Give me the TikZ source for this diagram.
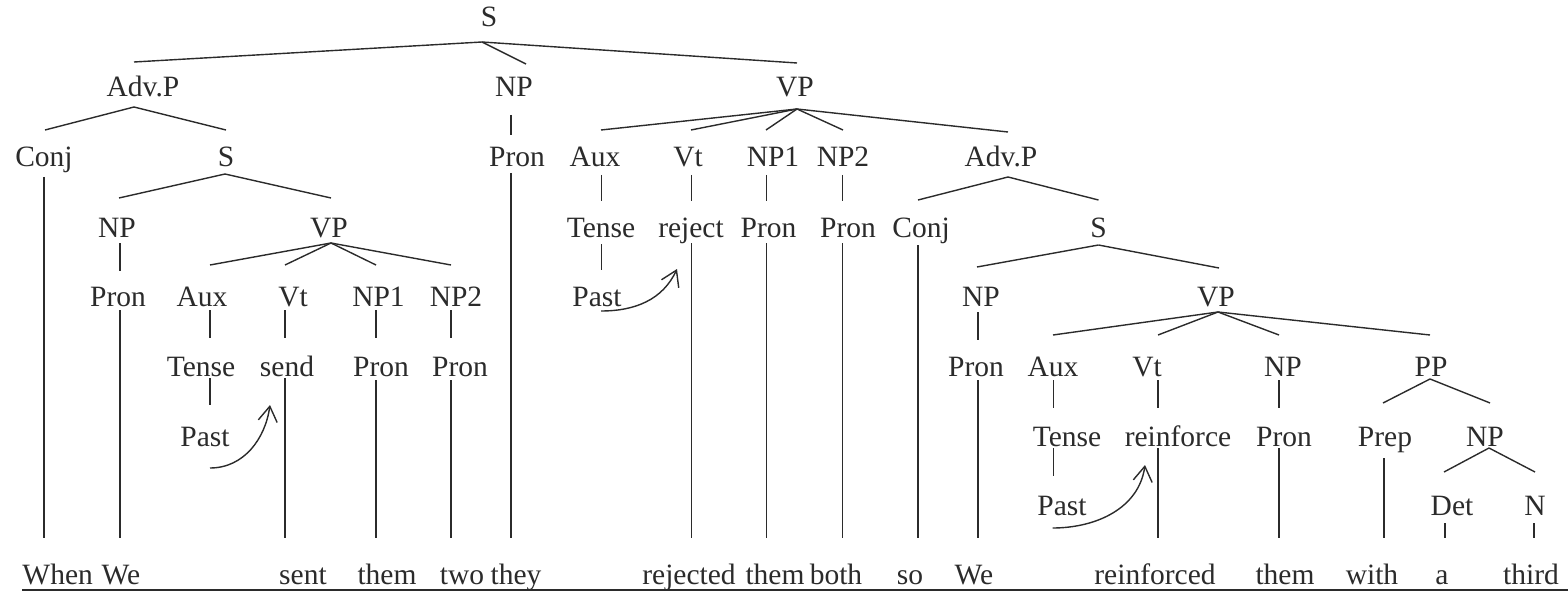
\documentclass[tikz,border=0pt]{standalone}
\usepackage{fontspec}
\setmainfont{Liberation Serif}
\usetikzlibrary{arrows.meta}
\definecolor{ink}{HTML}{2B2B2B}
\tikzset{
  lbl/.style={font=\fontsize{29.5}{30}\selectfont, inner sep=0pt, anchor=base, text=ink},
  edge/.style={draw=ink, line width=1.4pt},
  pointer/.style={edge, -{Straight Barb[length=15pt,width=19pt]}},
}
\begin{document}
\begin{tikzpicture}[x=1pt,y=-1pt]
\useasboundingbox (0,0) rectangle (1568,596);

% ---- labels, placed on their baselines ----
\node[lbl] (S0) at (489,27) {S};
% row 1
\node[lbl] (AdvP1) at (143,97) {Adv.P};
\node[lbl] (NP1) at (514,97) {NP};
\node[lbl] (VP1) at (795,97) {VP};
% row 2
\node[lbl] (Conj1) at (44,167) {Conj};
\node[lbl] (S2) at (226,167) {S};
\node[lbl] (Pron1) at (517,167) {Pron};
\node[lbl] (Aux1) at (595,167) {Aux};
\node[lbl] (Vt1) at (688,167) {Vt};
\node[lbl] (NPa1) at (773,167) {NP1};
\node[lbl] (NPa2) at (843,167) {NP2};
\node[lbl] (AdvP2) at (1001,167) {Adv.P};
% row 3
\node[lbl] (NP3) at (117,237) {NP};
\node[lbl] (VP3) at (329,237) {VP};
\node[lbl] (Tense1) at (601,237) {Tense};
\node[lbl] (Reject) at (691,237) {reject};
\node[lbl] (Pron2) at (768.5,237) {Pron};
\node[lbl] (Pron3) at (848,237) {Pron};
\node[lbl] (Conj2) at (921,237) {Conj};
\node[lbl] (S3) at (1098.5,237) {S};
% row 4
\node[lbl] (Pron4) at (118,306) {Pron};
\node[lbl] (Aux2) at (202,306) {Aux};
\node[lbl] (Vt2) at (293,306) {Vt};
\node[lbl] (NPb1) at (378.5,306) {NP1};
\node[lbl] (NPb2) at (456,306) {NP2};
\node[lbl] (Past1) at (597,306) {Past};
\node[lbl] (NP4) at (981,306) {NP};
\node[lbl] (VP4) at (1216,306) {VP};
% row 5
\node[lbl] (Tense2) at (201,376) {Tense};
\node[lbl] (Send) at (287,376) {send};
\node[lbl] (Pron5) at (381,376) {Pron};
\node[lbl] (Pron6) at (460,376) {Pron};
\node[lbl] (Pron7) at (976,376) {Pron};
\node[lbl] (Aux3) at (1053,376) {Aux};
\node[lbl] (Vt3) at (1147,376) {Vt};
\node[lbl] (NP5) at (1283,376) {NP};
\node[lbl] (PP) at (1431,376) {PP};
% row 6
\node[lbl] (Past2) at (205,446) {Past};
\node[lbl] (Tense3) at (1067,446) {Tense};
\node[lbl] (Reinf) at (1178,446) {reinforce};
\node[lbl] (Pron8) at (1284,446) {Pron};
\node[lbl] (Prep) at (1385,446) {Prep};
\node[lbl] (NP6) at (1485,446) {NP};
% row 7
\node[lbl] (Past3) at (1062,515) {Past};
\node[lbl] (Det) at (1452,515) {Det};
\node[lbl] (N) at (1535,515) {N};
% the sentence
\node[lbl] (w1) at (57.7,584) {When};
\node[lbl] (w2) at (121,584) {We};
\node[lbl] (w3) at (303,584) {sent};
\node[lbl] (w4) at (387,584) {them};
\node[lbl] (w5) at (462,584) {two};
\node[lbl] (w6) at (516,584) {they};
\node[lbl] (w7) at (689,584) {rejected};
\node[lbl] (w8) at (775,584) {them};
\node[lbl] (w9) at (836,584) {both};
\node[lbl] (w10) at (910,584) {so};
\node[lbl] (w11) at (974,584) {We};
\node[lbl] (w12) at (1155,584) {reinforced};
\node[lbl] (w13) at (1285,584) {them};
\node[lbl] (w14) at (1372,584) {with};
\node[lbl] (w15) at (1442,584) {a};
\node[lbl] (w16) at (1531,584) {third};

% ---- attachment points: -d below a label, -u above a label, -h arrow target ----
\foreach \n/\x/\y in {
  S0-d/482/42, AdvP1-u/134/62, NP1-u/526/64, VP1-u/797/63,
  AdvP1-d/134/107, Conj1-u/45/130, S2-u/226/130,
  NP1-d/511/115, Pron1-u/511/135,
  VP1-d/797/109, Aux1-u/601/130, Vt1-u/691/130, NPa1-u/766/130, NPa2-u/843/130, AdvP2-u/1008/132,
  Conj1-d/44/177, w1-u/44/538,
  S2-d/225/174, NP3-u/119/198, VP3-u/331/198,
  Pron1-d/511/173, w6-u/511/538,
  Aux1-d/601.5/175, Tense1-u/601.5/201,
  Vt1-d/691.5/175, Reject-u/691.5/201,
  NPa1-d/766.5/175, Pron2-u/766.5/201,
  NPa2-d/842.5/175, Pron3-u/842.5/201,
  AdvP2-d/1008/177, Conj2-u/918/200, S3-u/1098.5/200,
  NP3-d/120/243, Pron4-u/120/271,
  VP3-d/331/243, Aux2-u/210/265, Vt2-u/285/265, NPb1-u/376/265, NPb2-u/451/265,
  Tense1-d/601.5/244, Past1-u/601.5/270,
  Reject-d/691.5/243, w7-u/691.5/538,
  Pron2-d/766.5/243, w8-u/766.5/538,
  Pron3-d/842.5/243, w9-u/842.5/538,
  Conj2-d/918/245, w10-u/918/538,
  S3-d/1098.5/245, NP4-u/977/267, VP4-u/1219/268,
  Pron4-d/120/310, w2-u/120/538,
  Aux2-d/210/310, Tense2-u/210/338,
  Vt2-d/285/310, Send-u/285/338,
  NPb1-d/376/310, Pron5-u/376/338,
  NPb2-d/451/310, Pron6-u/451/338,
  Past1-d/601/311, Reject-h/677/269,
  NP4-d/978/312, Pron7-u/978/340,
  VP4-d/1218/312, Aux3-u/1053/335, Vt3-u/1158/335, NP5-u/1279/335, PP-u/1430/335,
  Tense2-d/210/378, Past2-u/210/405,
  Send-d/285/378, w3-u/285/538,
  Pron5-d/376/380, w4-u/376/538,
  Pron6-d/451/380, w5-u/451/538,
  Pron7-d/978/380, w11-u/978/538,
  Aux3-d/1053.5/380, Tense3-u/1053.5/408,
  Vt3-d/1158/380, Reinf-u/1158/408,
  NP5-d/1279/380, Pron8-u/1279/408,
  PP-d/1430/379, Prep-u/1383/403, NP6-u/1490/403,
  Past2-d/210/468, Send-h/270/405,
  Tense3-d/1053.5/448, Past3-u/1053.5/476,
  Reinf-d/1158/448, w12-u/1158/538,
  Pron8-d/1279/448, w13-u/1279/538,
  Prep-d/1384/458, w14-u/1384/538,
  NP6-d/1489/448, Det-u/1444/472, N-u/1535/472,
  Past3-d/1052.5/528, Reinf-h/1145/465,
  Det-d/1445/523, w15-u/1445/538,
  N-d/1534/523, w16-u/1534/538,
  ul-l/22/590, ul-r/1568/590}
  \coordinate (\n) at (\x,\y);

% ---- tree branches ----
\foreach \a/\b in {
  S0-d/AdvP1-u, S0-d/NP1-u, S0-d/VP1-u,
  AdvP1-d/Conj1-u, AdvP1-d/S2-u,
  NP1-d/Pron1-u,
  VP1-d/Aux1-u, VP1-d/Vt1-u, VP1-d/NPa1-u, VP1-d/NPa2-u, VP1-d/AdvP2-u,
  Conj1-d/w1-u, S2-d/NP3-u, S2-d/VP3-u, Pron1-d/w6-u,
  Aux1-d/Tense1-u, Vt1-d/Reject-u, NPa1-d/Pron2-u, NPa2-d/Pron3-u,
  AdvP2-d/Conj2-u, AdvP2-d/S3-u,
  NP3-d/Pron4-u,
  VP3-d/Aux2-u, VP3-d/Vt2-u, VP3-d/NPb1-u, VP3-d/NPb2-u,
  Tense1-d/Past1-u, Reject-d/w7-u, Pron2-d/w8-u, Pron3-d/w9-u, Conj2-d/w10-u,
  S3-d/NP4-u, S3-d/VP4-u,
  Pron4-d/w2-u, Aux2-d/Tense2-u, Vt2-d/Send-u, NPb1-d/Pron5-u, NPb2-d/Pron6-u,
  NP4-d/Pron7-u,
  VP4-d/Aux3-u, VP4-d/Vt3-u, VP4-d/NP5-u, VP4-d/PP-u,
  Tense2-d/Past2-u, Send-d/w3-u, Pron5-d/w4-u, Pron6-d/w5-u, Pron7-d/w11-u,
  Aux3-d/Tense3-u, Vt3-d/Reinf-u, NP5-d/Pron8-u,
  PP-d/Prep-u, PP-d/NP6-u,
  Tense3-d/Past3-u, Reinf-d/w12-u, Pron8-d/w13-u, Prep-d/w14-u,
  NP6-d/Det-u, NP6-d/N-u,
  Det-d/w15-u, N-d/w16-u}
  \draw[edge] (\a) -- (\b);

% ---- tense hopping onto the verb ----
\draw[pointer] (Past2-d) to[out=0, in=262] (Send-h);
\draw[pointer] (Past1-d) to[out=0, in=245] (Reject-h);
\draw[pointer] (Past3-d) to[out=0, in=262] (Reinf-h);

% ---- underline of the sentence ----
\draw[edge] (ul-l) -- (ul-r);
\end{tikzpicture}
\end{document}
